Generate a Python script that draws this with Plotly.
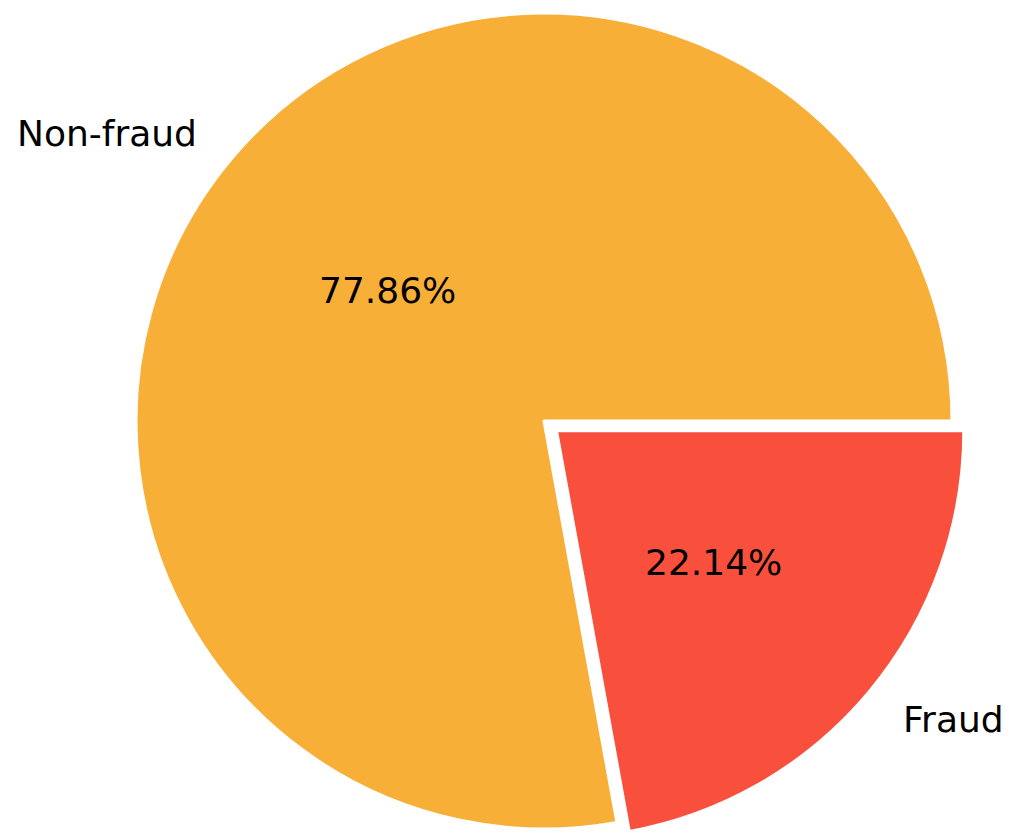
import math
import plotly.graph_objects as go

# ---- data ----
labels = ["Non-fraud", "Fraud"]
values = [77.86, 22.14]
colors = ["#F8AF38", "#F8503C"]
explode = [0.0, 0.04]

# ---- layout geometry (pixels) ----
W, H = 1009, 838
CX, CY, R = 544, 421, 408
LABEL_DIST = 1.1
PCT_DIST = 0.5
START = 0.0  # degrees, counterclockwise from east (matplotlib style)
FONT = dict(family="DejaVu Sans", size=36, color="black")

total = sum(values)
span0 = 360.0 * values[0] / total
# plotly (counterclockwise): first slice ends at `rotation` (cw from 12 o'clock)
ROT = 90 - START - span0

fig = go.Figure()
annotations = []
ang = START
for i, (lab, v) in enumerate(zip(labels, values)):
    span = 360.0 * v / total
    mid = math.radians(ang + span / 2)
    ang += span
    ox = explode[i] * R * math.cos(mid)
    oy = -explode[i] * R * math.sin(mid)
    cx, cy = CX + ox, CY + oy
    cols = [c if j == i else "rgba(0,0,0,0)" for j, c in enumerate(colors)]
    lw = [3 if j == i else 0 for j in range(len(values))]
    fig.add_trace(go.Pie(
        labels=labels, values=values, sort=False,
        direction="counterclockwise", rotation=ROT,
        marker=dict(colors=cols, line=dict(color="white", width=lw)),
        textinfo="none", hoverinfo="label+percent", showlegend=False,
        domain=dict(x=[(cx - R) / W, (cx + R) / W],
                    y=[max(0.0, 1 - (cy + R) / H), min(1.0, 1 - (cy - R) / H)]),
    ))
    # outer label
    lx = cx + LABEL_DIST * R * math.cos(mid)
    ly = cy - LABEL_DIST * R * math.sin(mid)
    annotations.append(dict(
        x=lx / W, y=1 - ly / H, xref="paper", yref="paper", text=lab,
        showarrow=False, font=FONT,
        xanchor="left" if math.cos(mid) > 0 else "right", yanchor="middle"))
    # percent label
    px = cx + PCT_DIST * R * math.cos(mid)
    py = cy - PCT_DIST * R * math.sin(mid)
    annotations.append(dict(
        x=px / W, y=1 - py / H, xref="paper", yref="paper",
        text=f"{100 * v / total:.2f}%", showarrow=False, font=FONT,
        xanchor="center", yanchor="middle"))

fig.update_layout(
    width=W, height=H, margin=dict(l=0, r=0, t=0, b=0),
    paper_bgcolor="white", plot_bgcolor="white",
    annotations=annotations, showlegend=False,
)
fig.write_html("out.html", config={"displayModeBar": False},
               post_script="document.body.style.margin='0';")
